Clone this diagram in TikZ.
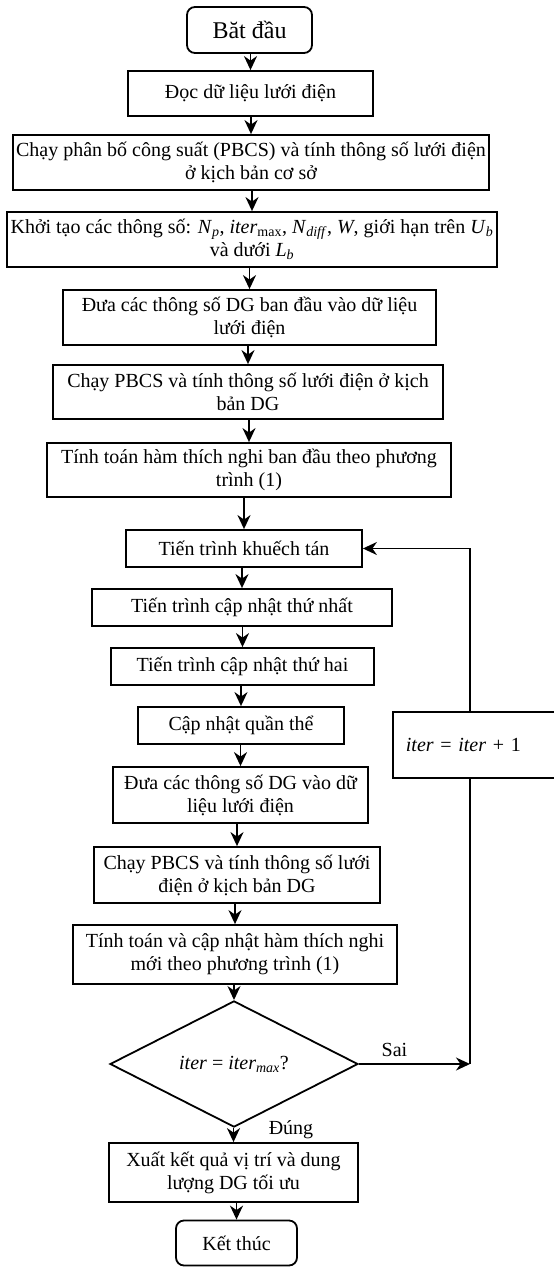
\documentclass[tikz,border=0pt]{standalone}
\usepackage{fontspec}
\setmainfont{Liberation Serif}
\usetikzlibrary{shapes.geometric,arrows.meta}
\begin{document}
\begin{tikzpicture}[x=1pt,y=-1pt,
  line width=1.8pt,>={Stealth[length=14pt,width=13pt,inset=4.5pt]},
  main node/.style={rectangle,draw,fill=white,align=center,inner xsep=2pt,inner ysep=1pt,font=\fontsize{20}{23}\selectfont},
  end node/.style={main node,rounded corners=8pt},
  cond node/.style={diamond,draw,inner sep=0pt,font=\fontsize{20}{23}\selectfont},
  loop node/.style={main node,anchor=west,text width=150pt,inner xsep=13pt,align=left}]

  \useasboundingbox (0,0) rectangle (554,1267);

  \node[end node,minimum width=125pt,minimum height=46pt,font=\fontsize{24}{28}\selectfont] (1) at (249.5,30) {Băt đầu};
  \node[main node,minimum width=245pt,minimum height=45pt] (2) at (250.5,93.5) {Đọc dữ liệu lưới điện};
  \node[main node,minimum width=476pt,minimum height=55pt] (3) at (251,162.5) {Chạy phân bố công suất (PBCS) và tính thông số lưới điện\\ở kịch bản cơ sở};
  \node[main node,minimum width=490pt,minimum height=55pt] (4) at (252,239.5) {Khởi tạo các thông số: \textit{N}\textsubscript{\textit{p}}, \textit{iter}\textsubscript{max}, \textit{N}\textsubscript{\textit{diff}}, \textit{W}, giới hạn trên \textit{U}\textsubscript{\textit{b}}\\và dưới \textit{L}\textsubscript{\textit{b}}};
  \node[main node,minimum width=373pt,minimum height=55pt] (5) at (249.5,317.5) {Đưa các thông số DG ban đầu vào dữ liệu\\lưới điện};
  \node[main node,minimum width=390pt,minimum height=54pt] (6) at (248,392) {Chạy PBCS và tính thông số lưới điện ở kịch\\bản DG};
  \node[main node,minimum width=404pt,minimum height=54pt] (7) at (249,470) {Tính toán hàm thích nghi ban đầu theo phương\\trình (1)};
  \node[main node,minimum width=236pt,minimum height=37pt] (8) at (244,548.5) {Tiến trình khuếch tán};
  \node[main node,minimum width=300pt,minimum height=37pt] (9) at (242,607.5) {Tiến trình cập nhật thứ nhất};
  \node[main node,minimum width=263pt,minimum height=37pt] (10) at (242.5,666.5) {Tiến trình cập nhật thứ hai};
  \node[main node,minimum width=206pt,minimum height=37pt] (11) at (241,725.5) {Cập nhật quần thể};
  \node[main node,minimum width=255pt,minimum height=56pt] (12) at (240.5,795) {Đưa các thông số DG vào dữ\\liệu lưới điện};
  \node[main node,minimum width=286pt,minimum height=56pt] (13) at (237,875) {Chạy PBCS và tính thông số lưới\\điện ở kịch bản DG};
  \node[main node,minimum width=324pt,minimum height=59pt] (14) at (235,954.5) {Tính toán và cập nhật hàm thích nghi\\mới theo phương trình (1)};
  \node[cond node,minimum width=248pt,minimum height=116pt] (15) at (234,1064) {\textit{iter} = \textit{iter}\textsubscript{\textit{max}}?};
  \node[main node,minimum width=249pt,minimum height=59pt] (16) at (233.5,1172.5) {Xuất kết quả vị trí và dung\\lượng DG tối ưu};
  \node[end node,minimum width=121pt,minimum height=45pt] (17) at (236.5,1243) {Kết thúc};
  \node[loop node,minimum height=66pt] (18) at (392,745) {\textit{iter} = \textit{iter} + 1};
  \node[font=\fontsize{20}{23}\selectfont] (19) at (291,1130) {Đúng};
  \coordinate (20) at (470,1064);

  \path[->]
   (2 |- 1.south) edge (2)
   (3 |- 2.south) edge (3)
   (4 |- 3.south) edge (4)
   (5 |- 4.south) edge (5)
   (6 |- 5.south) edge (6)
   (7 |- 6.south) edge (7)
   (8 |- 7.south) edge (8)
   (9 |- 8.south) edge (9)
   (10 |- 9.south) edge (10)
   (11 |- 10.south) edge (11)
   (12 |- 11.south) edge (12)
   (13 |- 12.south) edge (13)
   (14 |- 13.south) edge (14)
   (15 |- 14.south) edge (15)
   (16 |- 15.south) edge (16)
   (17 |- 16.south) edge (17);

  \draw[->] (15.east) -- node[pos=0.32,above,yshift=3pt,font=\fontsize{20}{23}\selectfont]{Sai} (20);
  \draw (20) -- (20 |- 18.south);
  \draw[->] (20 |- 18.north) |- (8.east);
\end{tikzpicture}
\end{document}
